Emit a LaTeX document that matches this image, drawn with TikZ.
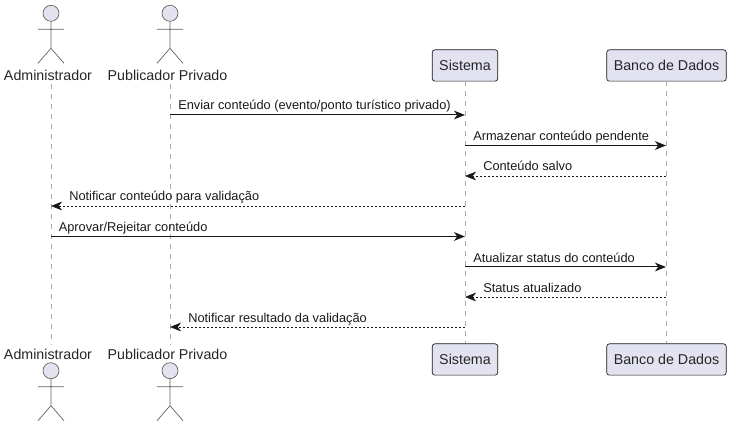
\documentclass[tikz,border=0pt]{standalone}
\usepackage{fontspec}
\setmainfont{Liberation Sans}
\usepackage{tikz}
\usetikzlibrary{arrows.meta,positioning}
\definecolor{partfill}{RGB}{226,226,240}
\definecolor{partline}{RGB}{24,24,24}
\definecolor{lifegrey}{RGB}{170,170,170}
\tikzset{
    partbox/.style={draw=partline, line width=0.5pt, rounded corners=2pt, fill=partfill,
                    minimum height=23.5pt, inner xsep=5.25pt, inner ysep=0pt,
                    font=\fontsize{10.7}{12}\selectfont, text=black!85, align=center},
    actlabel/.style={minimum height=13.5pt, inner sep=0pt,
                     font=\fontsize{10.7}{12}\selectfont, text=black!85, align=center},
    msglabel/.style={anchor=base west, inner sep=0pt,
                     font=\fontsize{9.6}{11}\selectfont, text=black!90},
    lifeline/.style={draw=lifegrey, line width=0.75pt, dash pattern=on 3.75pt off 3.75pt},
    actor/.pic={
        \node[circle, draw=partline!70, line width=0.5pt, fill=partfill,
              minimum size=12pt, inner sep=0pt] (-head) at (0,0) {};
        \coordinate (-hip) at (0,35);
        \coordinate (-arml) at (-13,16);
        \coordinate (-armr) at (13,16);
        \coordinate (-footl) at (-13,50);
        \coordinate (-footr) at (13,50);
        \draw[partline!70, line width=0.5pt] (-head) -- (-hip) (-arml) -- (-armr)
            (-footl) -- (-hip) -- (-footr);
    },
}

\begin{document}
\begin{tikzpicture}[
    x=0.75pt, y=-0.75pt,
    call/.style={-{Stealth[length=8.25pt, width=6.5pt, inset=2.4pt]}, line width=0.75pt, partline},
    reply/.style={-{Stealth[length=8.25pt, width=6.5pt, inset=2.4pt]}, line width=0.5pt,
                  dash pattern=on 1.5pt off 1.5pt, partline},
]
    \useasboundingbox (0,0) rectangle (732,427);

    % participants, top row
    \pic (admhead) at (51,13.3) {actor};
    \pic (pubhead) at (170,13.3) {actor};
    \node[actlabel] (admtop) at (48,75) {Administrador};
    \node[actlabel] (pubtop) at (167.5,75) {Publicador Privado};
    \node[partbox] (sistop) at (465,65.5) {Sistema};
    \node[partbox] (bdtop) at (666.5,65.5) {Banco de Dados};

    % participants, bottom row
    \node[actlabel] (admbot) at (48,354) {Administrador};
    \node[actlabel] (pubbot) at (167.5,354) {Publicador Privado};
    \node[partbox] (sisbot) at (465,359.5) {Sistema};
    \node[partbox] (bdbot) at (666.5,359.5) {Banco de Dados};
    \pic (admfoot) at (51,370.7) {actor};
    \pic (pubfoot) at (170,370.7) {actor};

    % lifelines
    \coordinate (admstart) at (51,84);
    \coordinate (admend) at (51,345);
    \coordinate (pubstart) at (170,84);
    \coordinate (pubend) at (170,345);
    \draw[lifeline] (admstart) -- (admend);
    \draw[lifeline] (pubstart) -- (pubend);
    \draw[lifeline] (sistop) -- (sisbot);
    \draw[lifeline] (bdtop) -- (bdbot);

    % message ends
    \coordinate (m1a) at (170,115);
    \coordinate (m1b) at (465,115);
    \coordinate (m2a) at (465,145.5);
    \coordinate (m2b) at (666,145.5);
    \coordinate (m3a) at (666,176);
    \coordinate (m3b) at (465,176);
    \coordinate (m4a) at (465,206);
    \coordinate (m4b) at (51,206);
    \coordinate (m5a) at (51,236.5);
    \coordinate (m5b) at (465,236.5);
    \coordinate (m6a) at (465,267);
    \coordinate (m6b) at (666,267);
    \coordinate (m7a) at (666,297);
    \coordinate (m7b) at (465,297);
    \coordinate (m8a) at (465,327);
    \coordinate (m8b) at (170,327);

    \draw[call] (m1a) -- (m1b);
    \draw[call] (m2a) -- (m2b);
    \draw[reply] (m3a) -- (m3b);
    \draw[reply] (m4a) -- (m4b);
    \draw[call] (m5a) -- (m5b);
    \draw[call] (m6a) -- (m6b);
    \draw[reply] (m7a) -- (m7b);
    \draw[reply] (m8a) -- (m8b);

    \node[msglabel] (t1) at (178,110) {Enviar conteúdo (evento/ponto turístico privado)};
    \node[msglabel] (t2) at (473,140.5) {Armazenar conteúdo pendente};
    \node[msglabel] (t3) at (483,171) {Conteúdo salvo};
    \node[msglabel] (t4) at (69,201) {Notificar conteúdo para validação};
    \node[msglabel] (t5) at (58.5,232) {Aprovar/Rejeitar conteúdo};
    \node[msglabel] (t6) at (473,262.5) {Atualizar status do conteúdo};
    \node[msglabel] (t7) at (483,292.5) {Status atualizado};
    \node[msglabel] (t8) at (188,323) {Notificar resultado da validação};
\end{tikzpicture}
\end{document}
